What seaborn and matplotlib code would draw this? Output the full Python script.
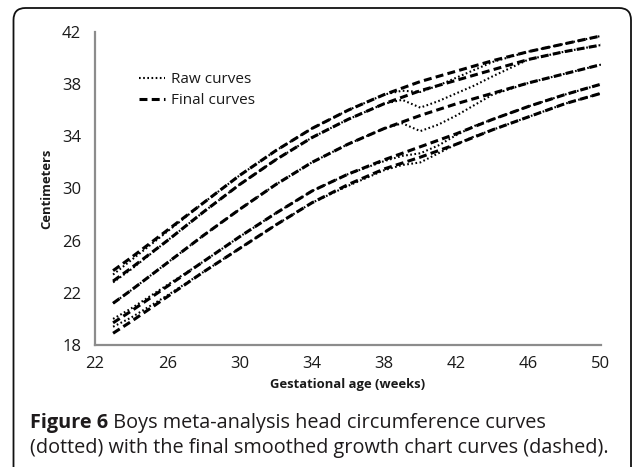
import matplotlib
matplotlib.use("Agg")
import matplotlib.pyplot as plt
from matplotlib.lines import Line2D
from matplotlib.patches import FancyBboxPatch
import seaborn as sns
import pandas as pd

# ---------------- data ----------------
final_weeks = [23, 24, 26, 28, 30, 32, 34, 36, 38, 40, 42, 44, 46, 48, 50]
final_1 = [23.7, 24.7, 26.8, 28.9, 31.0, 32.9, 34.6, 36.0, 37.2, 38.2, 39.0, 39.8, 40.5, 41.1, 41.7]
final_2 = [22.9, 23.9, 26.0, 28.2, 30.3, 32.2, 33.9, 35.3, 36.5, 37.5, 38.3, 39.1, 39.9, 40.5, 41.0]
final_3 = [21.2, 22.2, 24.3, 26.4, 28.4, 30.3, 32.0, 33.4, 34.6, 35.6, 36.5, 37.3, 38.1, 38.8, 39.5]
final_4 = [19.7, 20.6, 22.5, 24.4, 26.3, 28.1, 29.8, 31.1, 32.2, 33.2, 34.2, 35.3, 36.3, 37.2, 38.0]
final_5 = [18.9, 19.8, 21.7, 23.6, 25.4, 27.2, 28.9, 30.3, 31.5, 32.4, 33.4, 34.5, 35.5, 36.5, 37.3]

raw_weeks = [23, 24, 26, 28, 30, 32, 34, 36, 38, 39, 40, 41, 42, 43, 44, 46, 48, 50]
raw_1 = [23.4, 24.5, 26.7, 28.9, 31.0, 32.9, 34.6, 36.0, 37.2, 37.5, 37.4, 37.9, 38.5, 39.1, 39.7, 40.5, 41.1, 41.7]
raw_2 = [22.8, 23.8, 26.0, 28.2, 30.3, 32.2, 33.9, 35.3, 36.5, 36.8, 36.2, 36.7, 37.3, 37.9, 38.6, 39.9, 40.5, 41.0]
raw_3 = [21.2, 22.2, 24.3, 26.4, 28.4, 30.3, 32.0, 33.4, 34.6, 35.0, 34.4, 34.9, 35.6, 36.4, 37.2, 38.1, 38.8, 39.5]
raw_4 = [20.0, 20.8, 22.6, 24.4, 26.3, 28.1, 29.8, 31.1, 32.1, 32.5, 32.7, 33.3, 34.1, 34.8, 35.3, 36.3, 37.2, 38.0]
raw_5 = [19.4, 20.1, 21.8, 23.6, 25.4, 27.2, 28.9, 30.2, 31.4, 31.8, 32.0, 32.7, 33.4, 34.0, 34.5, 35.5, 36.5, 37.3]

x_ticks = [22, 26, 30, 34, 38, 42, 46, 50]
y_ticks = [18, 22, 26, 30, 34, 38, 42]

legend_labels = ["Raw curves", "Final curves"]
x_label = "Gestational age (weeks)"
y_label = "Centimeters"
caption_bold = "Figure 6"
caption_rest_1 = " Boys meta-analysis head circumference curves"
caption_line_2 = "(dotted) with the final smoothed growth chart curves (dashed)."

# ---------------- long tables ----------------
def long_table(weeks, series):
    rows = []
    for i, vals in enumerate(series):
        for w, v in zip(weeks, vals):
            rows.append({"week": w, "cm": v, "curve": i})
    return pd.DataFrame(rows)

df_final = long_table(final_weeks, [final_1, final_2, final_3, final_4, final_5])
df_raw = long_table(raw_weeks, [raw_1, raw_2, raw_3, raw_4, raw_5])

# ---------------- figure ----------------
sns.set_style("white")
plt.rcParams["font.family"] = ["Open Sans", "DejaVu Sans"]

W, H = 634, 467
fig = plt.figure(figsize=(W / 100, H / 100), dpi=100)
ax = fig.add_axes([95 / W, 1 - 345 / H, (601 - 95) / W, (345 - 32) / H])

sns.lineplot(data=df_raw, x="week", y="cm", units="curve", estimator=None,
             color="black", linewidth=1.5, linestyle=(0, (0.8, 1.2)), ax=ax,
             legend=False)
sns.lineplot(data=df_final, x="week", y="cm", units="curve", estimator=None,
             color="black", linewidth=2.2, linestyle=(0, (2.6, 1.4)), ax=ax,
             legend=False)

ax.set_xlim(22, 50)
ax.set_ylim(18, 42)
ax.set_xticks(x_ticks)
ax.set_yticks(y_ticks)
ax.set_xticklabels([str(t) for t in x_ticks])
ax.set_yticklabels([str(t) for t in y_ticks])

for s in ["top", "right"]:
    ax.spines[s].set_visible(False)
for s in ["left", "bottom"]:
    ax.spines[s].set_color("#8c8c8c")
    ax.spines[s].set_linewidth(1.6)
ax.tick_params(axis="both", which="major", direction="out", length=4, width=1.4,
               color="#8c8c8c", labelsize=12, labelcolor="#1a1a1a")
ax.tick_params(axis="y", pad=6)
ax.tick_params(axis="x", pad=4)

ax.set_xlabel(x_label, fontsize=9.4, fontweight="bold", color="#1a1a1a", labelpad=4)
ax.set_ylabel(y_label, fontsize=9.4, fontweight="bold", color="#1a1a1a", labelpad=6)

handles = [Line2D([0], [0], color="black", linewidth=1.5, linestyle=(0, (0.8, 1.2))),
           Line2D([0], [0], color="black", linewidth=2.2, linestyle=(0, (2.6, 1.4)))]
ax.legend(handles, legend_labels, loc="upper left", bbox_to_anchor=(0.06, 0.915),
          frameon=False, fontsize=11, handlelength=1.7, handletextpad=0.4,
          labelspacing=0.4, labelcolor="#1a1a1a")

# ---------------- caption ----------------
cap_color = "#1e1b1c"
cap_size = 14.3
t1 = fig.text(30 / W, (H - 428) / H, caption_bold, fontsize=cap_size, fontweight="bold",
              color=cap_color, va="baseline", ha="left")
fig.canvas.draw()
bb = t1.get_window_extent(renderer=fig.canvas.get_renderer())
fig.text(bb.x1 / W, (H - 428) / H, caption_rest_1, fontsize=cap_size, color=cap_color,
         va="baseline", ha="left", fontweight="medium")
fig.text(30 / W, (H - 453) / H, caption_line_2, fontsize=cap_size, color=cap_color,
         va="baseline", ha="left", fontweight="medium")

# ---------------- rounded border ----------------
border = FancyBboxPatch((13.5, -20), 631 - 13.5, (H - 8) + 20,
                        boxstyle="round,pad=0,rounding_size=12",
                        transform=None, fill=False, edgecolor="#111111",
                        linewidth=1.3, clip_on=False)
fig.patches.append(border)

fig.savefig("out.png", dpi=100)
